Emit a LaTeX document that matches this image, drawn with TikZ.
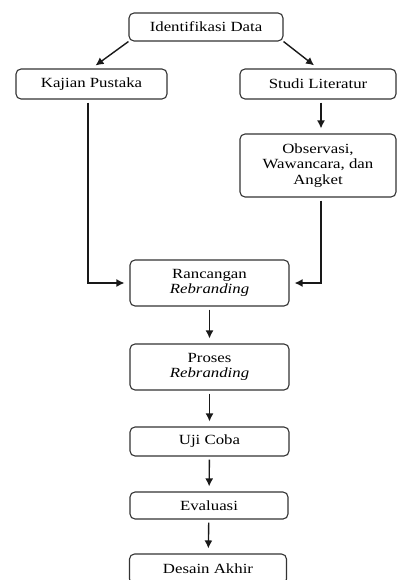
\documentclass[tikz,border=0pt]{standalone}
\usepackage{fontspec}
\setmainfont{Liberation Serif}[FakeStretch=1.2]
\usepackage{tikz}
\usetikzlibrary{arrows.meta}

\begin{document}
\begin{tikzpicture}[x=1pt,y=-1pt,
        box/.style={draw=black!80,line width=1.1pt,rounded corners=5pt,align=center,
                font=\fontsize{14}{15.5}\selectfont,inner sep=2pt},
        arr/.style={draw=black!90,line width=1.4pt,-{Latex[length=8pt,width=8pt]},
                shorten <=3pt,shorten >=5pt}]
        \clip (0,0) rectangle (397,580);
        \node[box,minimum width=154,minimum height=28] (ident) at (206,27) {Identifikasi Data};
        \node[box,minimum width=151,minimum height=30] (kajian) at (91.5,84) {Kajian Pustaka};
        \node[box,minimum width=156,minimum height=30] (studi) at (318,84) {Studi Literatur};
        \node[box,minimum width=156,minimum height=63] (obs) at (318,165.5) {Observasi,\\Wawancara, dan\\Angket};
        \node[box,minimum width=159,minimum height=46] (ranc) at (209.5,283) {Rancangan\\\textit{Rebranding}};
        \node[box,minimum width=159,minimum height=46] (proses) at (209.5,367) {Proses\\\textit{Rebranding}};
        \node[box,minimum width=159,minimum height=29] (uji) at (209.5,441.5) {Uji Coba};
        \node[box,minimum width=158,minimum height=27] (eval) at (209,505.5) {Evaluasi};
        \node[box,minimum width=157,minimum height=30] (desain) at (208,569) {Desain Akhir};
        \draw[arr,shorten <=0pt] (ident.south west) -- (kajian.north);
        \draw[arr,shorten <=0pt] (ident.south east) -- (studi.north);
        \draw[arr] ([xshift=-3.5]kajian.south) |- (ranc.west);
        \draw[arr] ([xshift=3]studi.south) -- ([xshift=3]obs.north);
        \draw[arr] ([xshift=3]obs.south) |- (ranc.east);
        \draw[arr] (ranc) -- (proses);
        \draw[arr] (proses) -- (uji);
        \draw[arr] (uji) -- (eval);
        \draw[arr] (eval) -- (desain);
\end{tikzpicture}
\end{document}
